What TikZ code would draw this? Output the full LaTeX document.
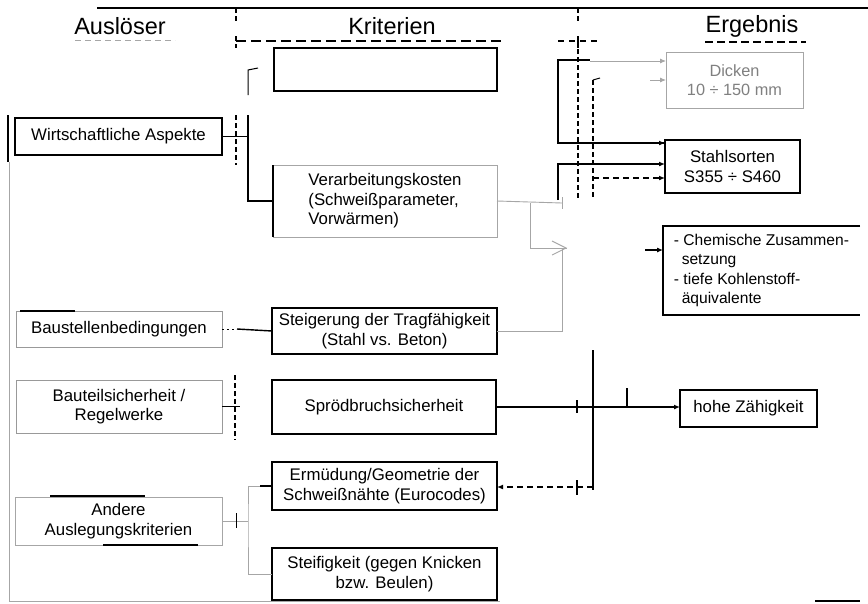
\documentclass[tikz,border=0pt]{standalone}
\usepackage{fontspec}
\setmainfont{Liberation Sans}
\usetikzlibrary{arrows.meta}
\begin{document}
\begin{tikzpicture}[x=1pt,y=-1pt,
 box/.style={draw, line width=1.3pt, align=center, inner sep=0pt, outer sep=0pt, font=\fontsize{16.8}{19.5}\selectfont},
 gbox/.style={box, draw=gray!70, line width=0.9pt},
 hdr/.style={font=\fontsize{23.5}{26}\selectfont, inner sep=0pt},
 blk/.style={line width=1.4pt},
 gl/.style={draw=gray!70, line width=0.9pt},
 dsh/.style={line width=1.4pt, dash pattern=on 5pt off 3pt},
 arr/.style={-{Latex[length=6pt,width=5pt]}},
]
\useasboundingbox (0,0) rectangle (868,603);
\fill[white] (0,0) rectangle (868,603);

% headers
\node[hdr] (h1) at (120,26) {Auslöser};
\node[hdr] (h2) at (392,26) {Kriterien};
\node[hdr] (h3) at (752,26) {Ergebnis};
\draw[line width=1.5pt] (97,8) -- (868,8);
\draw[gl, dash pattern=on 6pt off 4pt] (75,40) -- (175,40);
\draw[line width=1.3pt, dash pattern=on 8pt off 4pt] (705,42) -- (806,42);
\draw[dsh] (236,8) -- (236,22);
\draw[dsh] (578,8) -- (578,22);
\draw[line width=1.5pt, dash pattern=on 10pt off 5pt] (236,41) -- (505,41);
\draw[dsh] (236,36) -- (236,48);
\draw[line width=1.3pt, dash pattern=on 6pt off 5pt] (558,41) -- (600,41);

% Auslöser column
\node[box, minimum width=207pt, minimum height=37pt] (wirt) at (118.5,136.5) {Wirtschaftliche Aspekte};
\node[box, minimum width=206pt, minimum height=36pt, draw=gray!80, line width=1pt] (bau) at (119,329) {Baustellenbedingungen};
\node[box, minimum width=206pt, minimum height=53pt, draw=gray!80, line width=1pt] (baut) at (119,406.5) {Bauteilsicherheit /\\Regelwerke};
\node[gbox, minimum width=207pt, minimum height=48pt] (andere) at (118.5,521) {Andere\\Auslegungskriterien};
\draw[line width=1.6pt] (bau.north west) ++(4,0) -- ++(55,0);
\draw[line width=1.6pt] (andere.north west) ++(35,-1) -- ++(95,0);
\draw[line width=1.2pt] (andere.south west) ++(88,0) -- ++(95,0);

% left margin lines
\draw[blk] (8,115) -- (8,162);
\draw[gl] (9,162) -- (9,601) -- (500,601);
\draw[line width=1.5pt] (815,601) -- (860,601);

% Kriterien column
\node[box, minimum width=223pt, minimum height=43pt] (empty) at (385.5,69.5) {};
\node[gbox, align=left, minimum width=224pt, minimum height=72pt, text=black] (verarb) at (385,201) {Verarbeitungskosten\\(Schweißparameter,\\Vorwärmen)};
\draw[line width=1.8pt] (verarb.north west) -- (verarb.south west);
\node[box, minimum width=225pt, minimum height=46pt] (steig) at (384.5,331) {Steigerung der Tragfähigkeit\\(Stahl vs. Beton)};
\node[box, minimum width=224pt, minimum height=54pt] (sprod) at (384,407) {Sprödbruchsicherheit};
\node[box, minimum width=225pt, minimum height=48pt] (erm) at (384.5,486) {Ermüdung/Geometrie der\\Schweißnähte (Eurocodes)};
\node[box, minimum width=225pt, minimum height=52pt] (steif) at (384.5,574) {Steifigkeit (gegen Knicken\\bzw. Beulen)};
\draw[line width=1pt] (248,95) -- (248,70) -- (258,68);

% Ergebnis column
\node[gbox, minimum width=137pt, minimum height=56pt, text=gray, font=\fontsize{16.3}{19.5}\selectfont] (dicken) at (734.5,80) {Dicken\\10 ÷ 150 mm};
\node[box, minimum width=135pt, minimum height=53pt] (stahl) at (732.5,166.5) {Stahlsorten\\S355 ÷ S460};
\node[align=left, inner sep=0pt, outer sep=0pt, minimum width=197pt, minimum height=89pt, font=\fontsize{15.6}{19.5}\selectfont] (chem) at (761.5,270.5) {- Chemische Zusammen-\\\hspace*{0.5em}setzung\\- tiefe Kohlenstoff-\\\hspace*{0.5em}äquivalente};
\draw[line width=1.4pt] (chem.north east) -- (chem.north west) -- (chem.south west) -- (chem.south east);
\node[box, minimum width=137pt, minimum height=37pt] (hohe) at (748.5,408.5) {hohe Zähigkeit};

% connectors Auslöser -> Kriterien
\coordinate (ja) at (248,115);
\draw[blk] (wirt.east) -- (wirt.east -| ja);
\draw[blk] (ja) |- (verarb.west);
\draw[dsh] (236,115) -- (236,165);
\draw[blk] (bau.east) ++(15,0) -- (steig.west);
\draw[line width=1pt, dash pattern=on 2pt off 3pt] (bau.east) -- ++(15,0);
\draw[blk] (baut.east) -- ++(18,0);
\draw[dsh] (235,375) -- (235,440);
\coordinate (jb) at (248,521);
\draw[gl] (andere.east) -- (jb);
\draw[gl] (erm.west) -| (jb) |- (steif.west);
\draw[blk] (erm.west) -- ++(-12,0);
\draw[line width=1pt] (236,513) -- (236,528);

% Kriterien -> Ergebnis
\coordinate (jc) at (562,203);
\coordinate (je) at (567,248);
\draw[gl] (verarb.east) -- (jc);
\draw[gl] (562,197) -- (562,209);
\draw[gl] (530,203) |- (je);
\draw[gl] (552,241) -- (566,248) -- (552,255);
\draw[gl] (steig.east) -| (562,249);

\draw[dsh] (578,41) -- (578,200);
\draw[blk] (578,36) -- (578,48);
\coordinate (jf) at (558,60);
\draw[blk] (stahl.west |- 0,143) -| (jf) -- (590,60);
\draw[gl, arr] (590,61) -- (dicken.west |- 0,61);
\draw[gl, arr] (650,80) -- (dicken.west);
\draw[blk, arr] (558,200) |- (stahl.west |- 0,164);
\draw[dsh] (593,80) -- (593,198);
\draw[line width=1pt] (593,80) -- (600,78);
\draw[line width=1.3pt, dash pattern=on 6pt off 4pt, arr] (593,178) -- (stahl.west |- 0,178);
\draw[line width=1.4pt, arr] (561,143) -- (stahl.west |- 0,143);
\draw[line width=1.1pt, arr] (645,250) -- (chem.west |- 0,250);

\draw[blk, arr] (sprod.east) -- (sprod.east -| hohe.west);
\coordinate (jg) at (593,350);
\draw[blk] (jg) -- (593,490);
\draw[line width=1.3pt, dash pattern=on 6pt off 4pt, arr] (593,487) -- (erm.east |- 0,487);
\draw[line width=2pt] (577,400) -- (577,413);
\draw[line width=2pt] (577,480) -- (577,495);
\draw[line width=1.2pt] (627,388) -- (627,407);
\end{tikzpicture}
\end{document}
